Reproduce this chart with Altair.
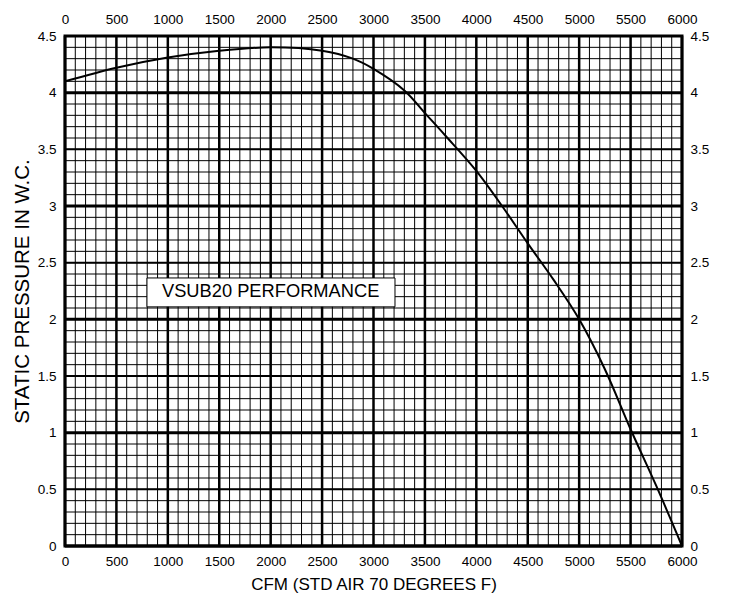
import altair as alt
import pandas as pd

# Fan curve: CFM vs static pressure (in. W.C.)
cfm = [0, 500, 1000, 1500, 2000, 2500, 2800, 3000, 3300, 3500, 3700, 4000, 4250, 4500, 4750, 5000, 5250, 5500, 5750, 6000]
sp = [4.10, 4.22, 4.31, 4.37, 4.40, 4.37, 4.30, 4.21, 4.02, 3.82, 3.62, 3.31, 3.00, 2.67, 2.35, 2.00, 1.56, 1.03, 0.53, 0.0]

# Axis tick values
x_ticks = [0, 500, 1000, 1500, 2000, 2500, 3000, 3500, 4000, 4500, 5000, 5500, 6000]
y_ticks = [0, 0.5, 1, 1.5, 2, 2.5, 3, 3.5, 4, 4.5]

# Graph-paper grid values
x_minor = [i * 100 for i in range(61)]
y_minor = [round(i * 0.1, 1) for i in range(46)]
y_half = [0.5, 1.5, 2.5, 3.5, 4.5]
y_int = [0, 1, 2, 3, 4]

# Annotation
annot_text = ["VSUB20 PERFORMANCE"]
annot_x = [2000]
annot_y = [2.24]
box_x = [797]
box_x2 = [3209]
box_y = [2.11]
box_y2 = [2.365]

FONT = "Liberation Sans"
xs = alt.Scale(domain=[0, 6000], nice=False, zero=False)
ys = alt.Scale(domain=[0, 4.5], nice=False, zero=False)

curve = pd.DataFrame({"cfm": cfm, "sp": sp})
xminor_df = pd.DataFrame({"v": x_minor})
xmajor_df = pd.DataFrame({"v": x_ticks})
yminor_df = pd.DataFrame({"v": y_minor})
yhalf_df = pd.DataFrame({"v": y_half})
yint_df = pd.DataFrame({"v": y_int})
annot_df = pd.DataFrame({"t": annot_text, "x": annot_x, "y": annot_y,
                         "bx": box_x, "bx2": box_x2, "by": box_y, "by2": box_y2})

common_axis = dict(grid=False, ticks=False, tickSize=0, domain=False,
                   labelFont=FONT, labelFontSize=13.5, labelColor="black",
                   titleFont=FONT, titleColor="black",
                   titleFontWeight="normal", labelFlush=False, labelOverlap=False)

top_axis = alt.Axis(orient="top", values=x_ticks, format="d", title=None,
                    labelPadding=10, **common_axis)
bottom_axis = alt.Axis(orient="bottom", values=x_ticks, format="d",
                       title="CFM (STD AIR 70 DEGREES F)", labelPadding=8,
                       titlePadding=9, titleFontSize=17, **common_axis)
left_axis = alt.Axis(orient="left", values=y_ticks, format="~g",
                     title="STATIC PRESSURE IN W.C.", labelPadding=9,
                     titlePadding=5, titleFontSize=20.5, **common_axis)
right_axis = alt.Axis(orient="right", values=y_ticks, format="~g", title=None,
                      labelPadding=8, **common_axis)

vminor = alt.Chart(xminor_df).mark_rule(color="black", strokeWidth=1).encode(
    x=alt.X("v:Q", scale=xs, axis=top_axis))
vmajor = alt.Chart(xmajor_df).mark_rule(color="black", strokeWidth=2.5).encode(
    x=alt.X("v:Q", scale=xs, axis=bottom_axis))
hminor = alt.Chart(yminor_df).mark_rule(color="black", strokeWidth=1).encode(
    y=alt.Y("v:Q", scale=ys, axis=left_axis))
hhalf = alt.Chart(yhalf_df).mark_rule(color="black", strokeWidth=2).encode(
    y=alt.Y("v:Q", scale=ys, axis=right_axis))
hint = alt.Chart(yint_df).mark_rule(color="black", strokeWidth=3).encode(
    y=alt.Y("v:Q", scale=ys, axis=None))

line = alt.Chart(curve).mark_line(color="black", strokeWidth=2, interpolate="catmull-rom").encode(
    x=alt.X("cfm:Q", scale=xs, axis=None),
    y=alt.Y("sp:Q", scale=ys, axis=None))

box = alt.Chart(annot_df).mark_rect(fill="white", stroke="black", strokeWidth=1).encode(
    x=alt.X("bx:Q", scale=xs, axis=None), x2="bx2:Q",
    y=alt.Y("by:Q", scale=ys, axis=None), y2="by2:Q")
label = alt.Chart(annot_df).mark_text(font=FONT, fontSize=18.3, color="black",
                                      align="center", baseline="middle").encode(
    x=alt.X("x:Q", scale=xs, axis=None),
    y=alt.Y("y:Q", scale=ys, axis=None),
    text="t:N")

chart = alt.layer(vminor, vmajor, hminor, hhalf, hint, line, box, label).resolve_axis(
    x="independent", y="independent"
).properties(
    width=617, height=510,
    padding={"left": 4, "top": 4, "right": 5, "bottom": 0},
    background="white",
).configure_view(stroke="black", strokeWidth=3)

chart.save("out.html", embed_options={"renderer": "svg", "actions": False})
